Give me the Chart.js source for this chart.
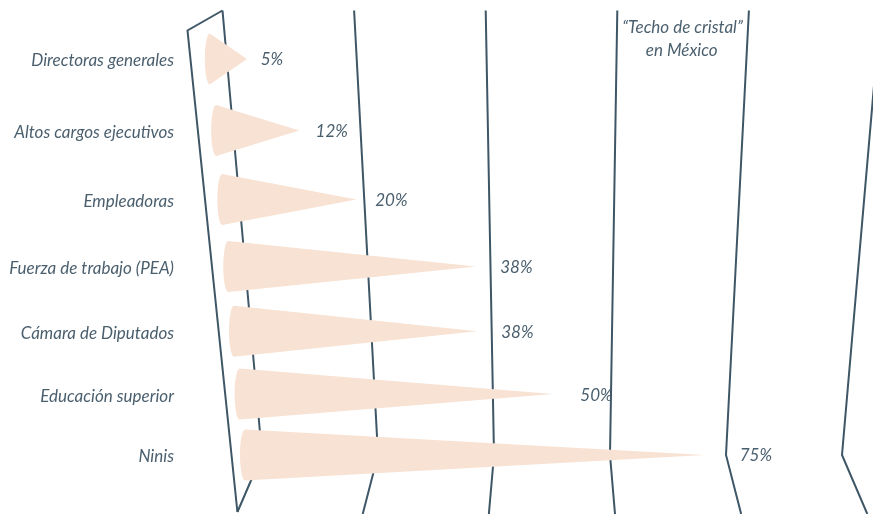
<!DOCTYPE html>
<html>
<head>
<meta charset="utf-8">
<script src="https://cdn.jsdelivr.net/npm/chart.js@4/dist/chart.umd.min.js"></script>
<style>
  html, body { margin: 0; padding: 0; background: #ffffff; }
  #wrap { width: 873px; height: 514px; position: relative; }
</style>
</head>
<body>
<div id="wrap"><canvas id="chart"></canvas></div>
<script>
// Share of women (%) in each group
const categories = [
  'Directoras generales',
  'Altos cargos ejecutivos',
  'Empleadoras',
  'Fuerza de trabajo (PEA)',
  'Cámara de Diputados',
  'Educación superior',
  'Ninis'
];
const shares = [5, 12, 20, 38, 38, 50, 75];
const gridValues = [0, 20, 40, 60, 80, 100];
const titleLines = ['“Techo de cristal”', 'en México'];

// Look of the drawing
const INK = '#3e5666';
const TEXT = '#4a5f6e';
const CONE = '#f8e2d3';
const FONT = { family: 'Lato', style: 'italic', size: 17 };

// Tilted grid: how far the value scale is shifted / stretched at the top
// and bottom edges compared with the bottom row (where the lines bend)
const depth = {
  topY: 10.5, topShift: -39.5, topStretch: 1.1345,
  bottomY: 513, bottomShift: -25, bottomStretch: 1.086
};

function skewX(chart, v, y) {
  const xs = chart.scales.x;
  const x0 = xs.getPixelForValue(0);
  const x = xs.getPixelForValue(v);
  const yBend = chart.chartArea.bottom;
  let t, shift, stretch;
  if (y <= yBend) {
    t = (yBend - y) / (yBend - depth.topY);
    shift = depth.topShift; stretch = depth.topStretch;
  } else {
    t = (y - yBend) / (depth.bottomY - yBend);
    shift = depth.bottomShift; stretch = depth.bottomStretch;
  }
  return x + t * (shift + (x - x0) * (stretch - 1));
}

// Category axis whose rows get closer together further down
class PerspectiveCategoryScale extends Chart.CategoryScale {
  getPixelForDecimal(decimal) {
    const k = 0.1;
    const warped = (1 + k) * decimal / (1 + k * decimal);
    return super.getPixelForDecimal(warped);
  }
}
PerspectiveCategoryScale.id = 'perspectiveCategory';
PerspectiveCategoryScale.defaults = Chart.CategoryScale.defaults;
Chart.register(PerspectiveCategoryScale);

const tiltedGrid = {
  id: 'tiltedGrid',
  beforeDatasetsDraw(chart) {
    const ctx = chart.ctx;
    const yBend = chart.chartArea.bottom;
    ctx.save();
    ctx.strokeStyle = INK;
    ctx.lineWidth = 2;
    ctx.lineJoin = 'miter';
    gridValues.forEach((v) => {
      const yEnd = v === 0 ? depth.bottomY - 1 : 514;
      ctx.beginPath();
      ctx.moveTo(skewX(chart, v, depth.topY), depth.topY);
      ctx.lineTo(skewX(chart, v, yBend), yBend);
      ctx.lineTo(skewX(chart, v, yEnd), yEnd);
      ctx.stroke();
    });
    // frame closing the zero line on the left
    const xt = skewX(chart, 0, depth.topY);
    const xb = skewX(chart, 0, depth.bottomY - 1);
    ctx.beginPath();
    ctx.moveTo(xt, depth.topY);
    ctx.lineTo(xt - 35, depth.topY + 20);
    ctx.lineTo(xb, depth.bottomY - 1);
    ctx.stroke();
    ctx.restore();
  }
};

const cones = {
  id: 'cones',
  afterDatasetsDraw(chart) {
    const ctx = chart.ctx;
    const meta = chart.getDatasetMeta(0);
    const data = chart.data.datasets[0].data;
    ctx.save();
    meta.data.forEach((bar, i) => {
      const v = data[i];
      const y = bar.y;
      const h = bar.height;
      const x0 = skewX(chart, 0, y);
      const base = x0 - 17;
      const tip = x0 - 14 + 1.05 * (skewX(chart, v, y) - x0);
      ctx.beginPath();
      ctx.moveTo(base, y - h / 2);
      ctx.lineTo(tip, y);
      ctx.lineTo(base, y + h / 2);
      ctx.ellipse(base, y, 5, h / 2, 0, Math.PI / 2, Math.PI * 1.5, false);
      ctx.closePath();
      ctx.fillStyle = CONE;
      ctx.fill();

      ctx.fillStyle = TEXT;
      ctx.font = `${FONT.style} ${FONT.size}px ${FONT.family}`;
      ctx.textAlign = 'left';
      ctx.textBaseline = 'middle';
      ctx.fillText(v + '%', tip + 12 + 0.05 * (tip - base), y + 1);
    });

    // heading between the 60 and 80 lines
    ctx.textAlign = 'center';
    ctx.textBaseline = 'middle';
    [28, 51].forEach((ty, j) => {
      const cx = (skewX(chart, 60, ty) + skewX(chart, 80, ty)) / 2;
      ctx.fillText(titleLines[j], cx, ty);
    });
    ctx.restore();
  }
};

new Chart(document.getElementById('chart'), {
  type: 'bar',
  data: {
    labels: categories,
    datasets: [{
      data: shares,
      backgroundColor: 'rgba(0,0,0,0)',
      borderWidth: 0,
      barThickness: 51
    }]
  },
  options: {
    indexAxis: 'y',
    responsive: true,
    maintainAspectRatio: false,
    animation: false,
    events: [],
    layout: { padding: { left: 0, right: 31, top: 59, bottom: 59 } },
    plugins: { legend: { display: false }, tooltip: { enabled: false } },
    scales: {
      x: { type: 'linear', min: 0, max: 100, display: false },
      y: {
        type: 'perspectiveCategory',
        offset: false,
        grid: { display: false, drawTicks: false },
        border: { display: false },
        ticks: {
          color: TEXT,
          font: FONT,
          padding: 88,
          labelOffset: 2,
          autoSkip: false
        },
        afterFit(scale) {
          scale.width = 262;
          scale.paddingTop = 0;
          scale.paddingBottom = 0;
        }
      }
    }
  },
  plugins: [tiltedGrid, cones]
});
</script>
</body>
</html>
